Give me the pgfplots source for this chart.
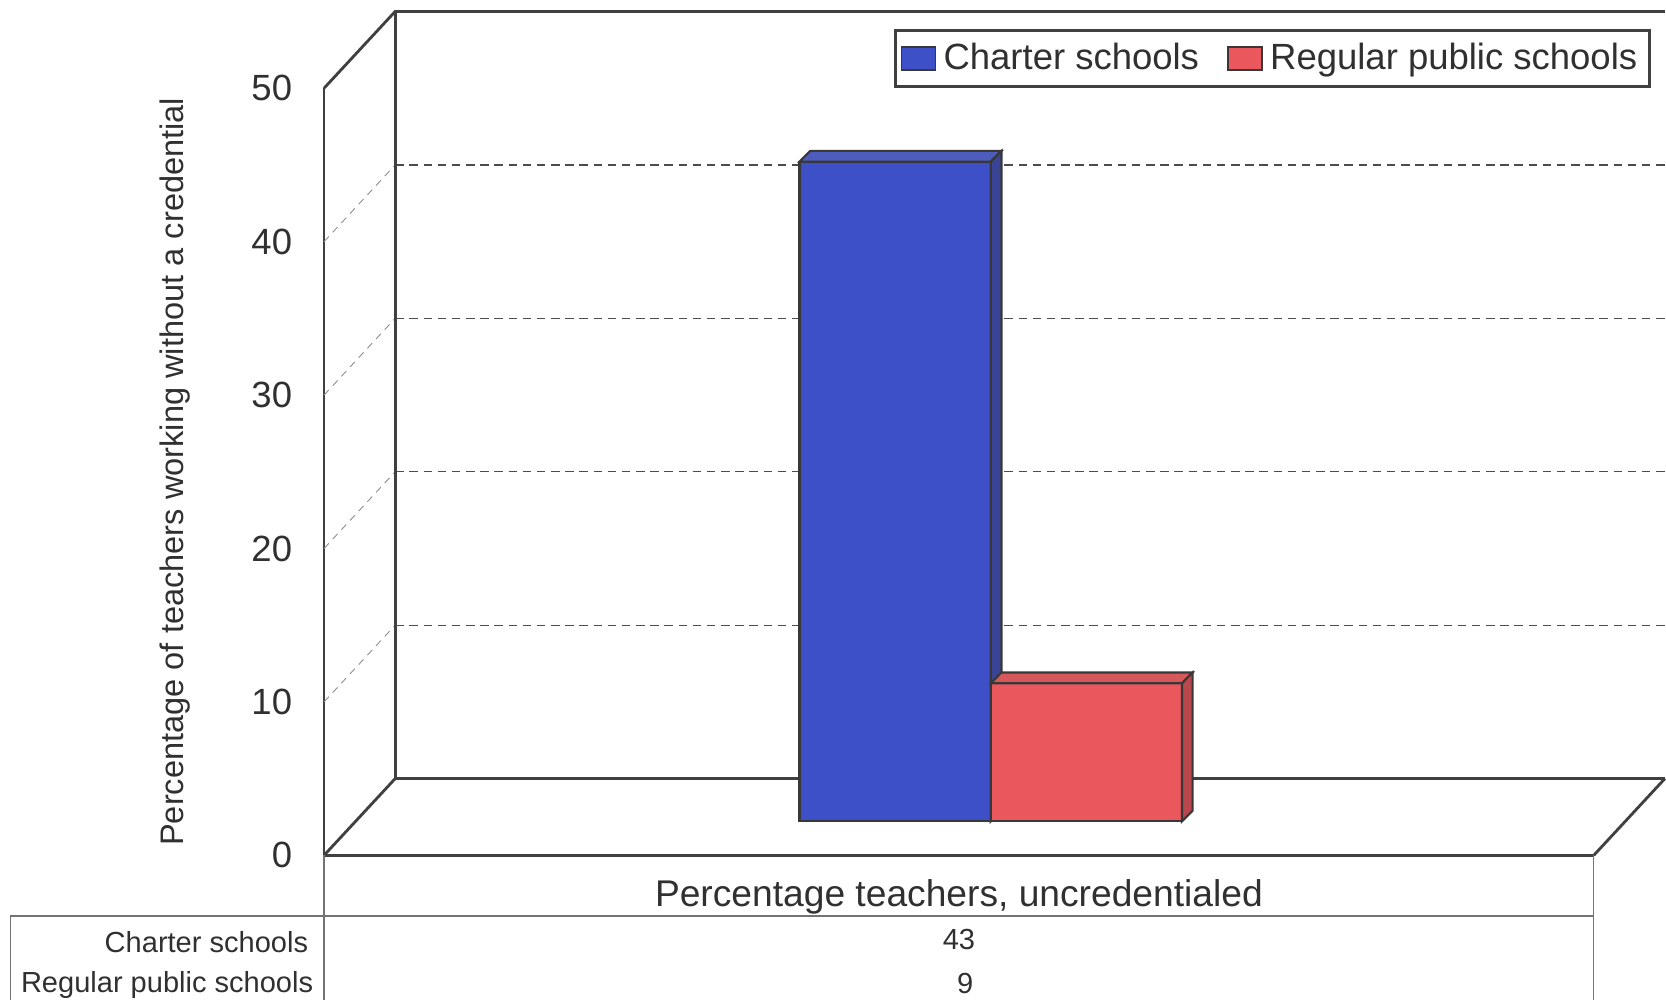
\documentclass[border=0pt]{standalone}
\usepackage{pgfplots}
\pgfplotsset{compat=1.18}
\usepackage{fontspec}
\setmainfont{Liberation Sans}
\definecolor{frame}{HTML}{404040}
\definecolor{txt}{HTML}{303030}
\definecolor{bluef}{RGB}{62,80,200}
\definecolor{bluet}{RGB}{78,92,190}
\definecolor{blues}{RGB}{58,68,150}
\definecolor{redf}{RGB}{234,88,94}
\definecolor{redt}{RGB}{214,88,90}
\definecolor{reds}{RGB}{185,72,78}
\definecolor{edge}{HTML}{383838}
\begin{document}
\begin{tikzpicture}
\useasboundingbox (0,0) rectangle (470.4pt,282.3pt);
% front plane axis with frame, gridlines and data table
\begin{axis}[
  at={(91.5pt,40.8pt)}, anchor=south west,
  width=358.5pt, height=216.6pt, scale only axis,
  xmin=0, xmax=1, ymin=0, ymax=50,
  clip=false,
  axis x line*=bottom, axis y line*=left,
  axis line style={draw=frame, line width=0.8pt, -},
  xtick={0.5}, xticklabels={Percentage teachers{,} uncredentialed},
  ytick={0,10,20,30,40,50},
  major tick length=0pt,
  /pgf/number format/assume math mode=true,
  yticklabel style={font=\fontsize{10.3}{12}\selectfont, text=txt, xshift=-5.5pt},
  xticklabel style={font=\fontsize{10.5}{12}\selectfont, text=txt, anchor=center, yshift=-11.8pt},
  ylabel={Percentage of teachers working without a credential},
  every axis y label/.style={at={(axis description cs:-0.117,0.5)}, rotate=90, anchor=center, font=\fontsize{9.2}{11}\selectfont, text=txt},
]
% back wall gridlines
\draw[black!70, line width=0.35pt, dash pattern=on 2.4pt off 1.6pt] (axis cs:0.056,15) -- (axis cs:1.056,15);
\draw[black!70, line width=0.35pt, dash pattern=on 2.4pt off 1.6pt] (axis cs:0.056,25) -- (axis cs:1.056,25);
\draw[black!70, line width=0.35pt, dash pattern=on 2.4pt off 1.6pt] (axis cs:0.056,35) -- (axis cs:1.056,35);
\draw[black!70, line width=0.35pt, dash pattern=on 2.4pt off 1.6pt] (axis cs:0.056,45) -- (axis cs:1.056,45);
% side wall gridlines
\draw[black!45, line width=0.25pt, dash pattern=on 2pt off 1.6pt] (axis cs:0,10) -- (axis cs:0.056,15);
\draw[black!45, line width=0.25pt, dash pattern=on 2pt off 1.6pt] (axis cs:0,20) -- (axis cs:0.056,25);
\draw[black!45, line width=0.25pt, dash pattern=on 2pt off 1.6pt] (axis cs:0,30) -- (axis cs:0.056,35);
\draw[black!45, line width=0.25pt, dash pattern=on 2pt off 1.6pt] (axis cs:0,40) -- (axis cs:0.056,45);
% walls and floor
\draw[frame, line width=0.8pt] (axis cs:0,50) -- (axis cs:0.056,55) -- (axis cs:1.056,55);
\draw[frame, line width=0.8pt] (axis cs:0.056,55) -- (axis cs:0.056,5) -- (axis cs:1.056,5);
\draw[frame, line width=0.8pt] (axis cs:0,0) -- (axis cs:0.056,5);
\draw[frame, line width=0.8pt] (axis cs:1,0) -- (axis cs:1.056,5);
% data table
\draw[black!55, line width=0.4pt] (axis cs:0,0) -- (axis cs:0,-9.8);
\draw[black!55, line width=0.4pt] (axis cs:1,0) -- (axis cs:1,-9.8);
\draw[black!55, line width=0.4pt] (axis cs:-0.247,-3.95) -- (axis cs:1,-3.95);
\draw[black!55, line width=0.4pt] (axis cs:-0.247,-3.95) -- (axis cs:-0.247,-9.8);
\node[anchor=east, font=\fontsize{8.2}{10}\selectfont, text=txt, inner sep=0pt] at (axis cs:-0.012,-5.68) {Charter schools};
\node[anchor=east, font=\fontsize{8.2}{10}\selectfont, text=txt, inner sep=0pt] at (axis cs:-0.008,-8.45) {Regular public schools};
\node[font=\fontsize{8.2}{10}\selectfont, text=txt, inner sep=0pt] at (axis cs:0.5,-5.5) {43};
\node[font=\fontsize{8.2}{10}\selectfont, text=txt, inner sep=0pt] at (axis cs:0.505,-8.35) {9};
\end{axis}
% bar plane axis (mid-depth)
\begin{axis}[
  at={(100.5pt,50.4pt)}, anchor=south west,
  width=358.5pt, height=216.6pt, scale only axis,
  xmin=0, xmax=1, ymin=0, ymax=50,
  hide axis, clip=false,
  legend style={at={(axis description cs:1.020,1.033)}, anchor=north east,
    legend columns=2, draw=frame, line width=0.8pt,
    font=\fontsize{10.3}{12}\selectfont, text=txt,
    inner xsep=1.5pt, inner ysep=1.5pt,
    /tikz/every even column/.append style={column sep=6pt}},
  legend image code/.code={\draw[#1, line width=0.5pt] (0pt,-3.3pt) rectangle (9.6pt,3.3pt);},
]
\addplot[ybar, bar width=54pt, bar shift=-27pt, fill=bluef, draw=edge, line width=0.6pt] coordinates {(0.5,43)};
\addlegendentry{Charter schools}
\addplot[forget plot, fill=bluet, draw=edge, line width=0.6pt] coordinates {(0.3494,43) (0.5,43) (0.5084,43.7) (0.3578,43.7)} -- cycle;
\addplot[forget plot, fill=blues, draw=edge, line width=0.6pt] coordinates {(0.5,0) (0.5,43) (0.5084,43.7) (0.5084,0.7)} -- cycle;
\addplot[ybar, bar width=54pt, bar shift=27pt, fill=redf, draw=edge, line width=0.6pt] coordinates {(0.5,9)};
\addlegendentry{Regular public schools}
\addplot[forget plot, fill=redt, draw=edge, line width=0.6pt] coordinates {(0.5,9) (0.6506,9) (0.659,9.7) (0.5084,9.7)} -- cycle;
\addplot[forget plot, fill=reds, draw=edge, line width=0.6pt] coordinates {(0.6506,0) (0.6506,9) (0.659,9.7) (0.659,0.7)} -- cycle;
\end{axis}
\end{tikzpicture}
\end{document}
